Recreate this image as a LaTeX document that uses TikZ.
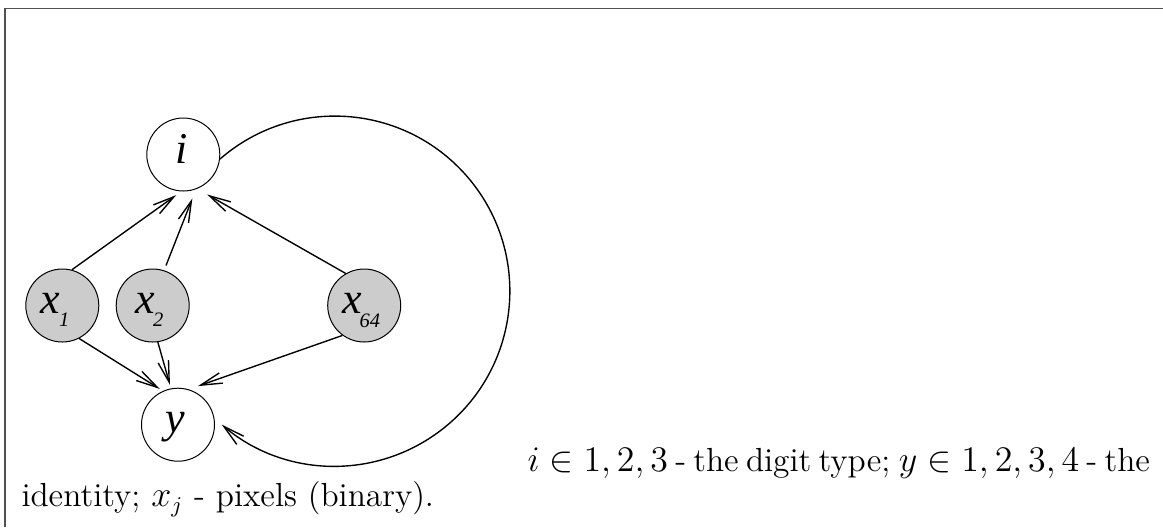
\documentclass[tikz,border=0pt]{standalone}
\usepackage{fontspec}
\usetikzlibrary{arrows.meta}
\newfontface\tmsit{Liberation Serif Italic}
\definecolor{obsgray}{RGB}{204,204,204}
\definecolor{framec}{RGB}{80,80,80}
\begin{document}
\begin{tikzpicture}[x=0.4pt,y=-0.4pt,
  nd/.style={circle, draw, line width=0.4pt, minimum size=29.2pt, inner sep=0pt},
  obs/.style={nd, fill=obsgray},
  arr/.style={line width=0.55pt, -{Straight Barb[length=8.6pt,width=4.3pt]}},
  lab/.style={anchor=base west, inner sep=0pt, font=\tmsit\fontsize{17.6}{18}\selectfont},
  sub/.style={anchor=base west, inner sep=0pt, font=\tmsit\fontsize{8.2}{9}\selectfont},
  txt/.style={anchor=base west, inner sep=0pt, font=\fontsize{13.35}{15}\selectfont}]
\useasboundingbox (0,0) rectangle (1163,527);
\draw[framec, line width=0.6pt] (5,527) -- (5,8.5) -- (1163,8.5);

\node[nd] (i) at (183.3,154.5) {};
\node[obs] (x1) at (62.3,305.5) {};
\node[obs] (x2) at (152.7,305.5) {};
\node[obs] (x64) at (364.2,305.5) {};
\node[nd] (y) at (178,424.7) {};

\node[lab] (li) at (175,163.3) {i};
\node[lab] (ly) at (165,432) {y};
\node[lab] (lx1) at (40,313.3) {x};
\node[sub] (lx1s) at (58.5,326.7) {1};
\node[lab] (lx2) at (135,313.3) {x};
\node[sub] (lx2s) at (152.5,326.7) {2};
\node[lab] (lx64) at (341.7,313.3) {x};
\node[sub] (lx64s) at (359,327) {64};

\draw[arr, shorten >=2.5pt] (x1.75) -- (i.-93.5);
\draw[arr, shorten <=2.1pt, shorten >=3.9pt] (x2.72.4) -- (i.-70.4);
\draw[arr, shorten >=4.6pt] (x64.120) -- (i.-68.9);
\draw[arr, shorten >=1.5pt] (x1.-63.3) -- (y.114.7);
\draw[arr, shorten >=1.45pt] (x2.-82.6) -- (y.101.9);
\draw[arr, shorten >=3.9pt] (x64.-126.4) -- (y.73.6);
\draw[arr] (i.-7) arc[start angle=131, end angle=-130.3, radius=70pt];

\node[txt] (t1) at (527,471.7) {\makebox[248.8pt][s]{$i \in 1,2,3$ - the digit type; $y \in 1,2,3,4$ - the}};
\node[txt] (t2) at (21,506.7) {identity; $x_j$ - pixels (binary).};
\end{tikzpicture}
\end{document}
